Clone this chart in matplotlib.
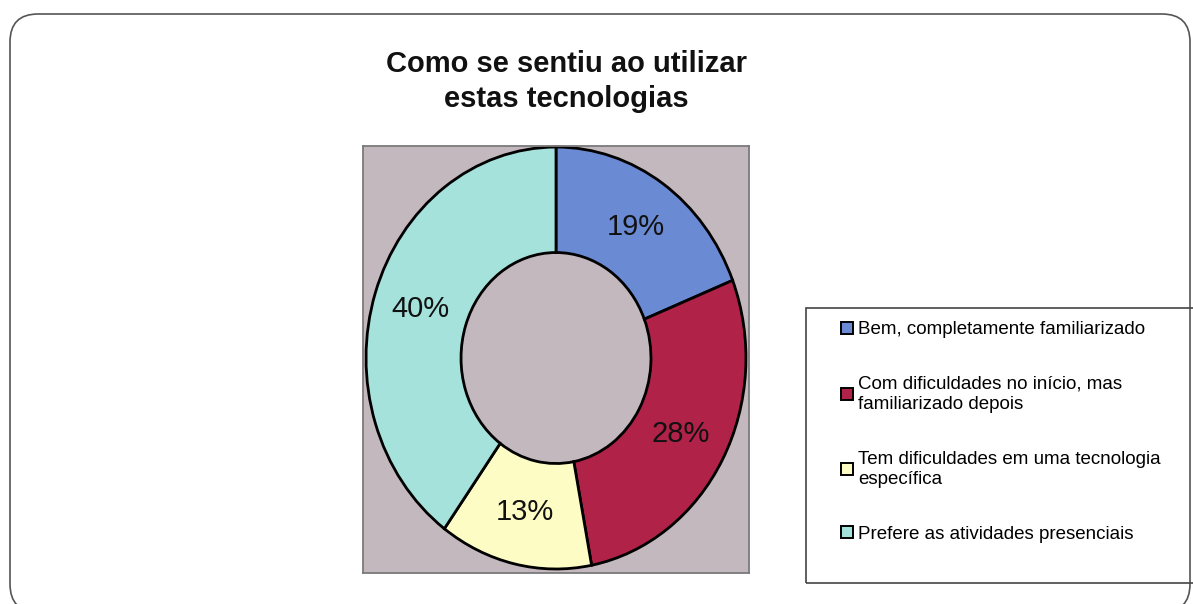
import matplotlib
matplotlib.use("Agg")
import matplotlib.pyplot as plt
import numpy as np
from matplotlib.patches import FancyBboxPatch, Rectangle, Patch
from matplotlib.transforms import IdentityTransform

categories = [
    "Bem, completamente familiarizado",
    "Com dificuldades no início, mas\nfamiliarizado depois",
    "Tem dificuldades em uma tecnologia\nespecífica",
    "Prefere as atividades presenciais",
]
values = [19, 28, 13, 40]
pct_labels = ["19%", "28%", "13%", "40%"]
colors = ["#6a8ad4", "#b02248", "#fdfcc4", "#a6e2dc"]
title = "Como se sentiu ao utilizar\nestas tecnologias"

plt.rcParams["font.family"] = ["Liberation Sans", "DejaVu Sans"]

W, H = 1193, 604
fig = plt.figure(figsize=(W / 100, H / 100), dpi=100)
fig.patch.set_facecolor("white")

# outer rounded border (display pixels)
border = FancyBboxPatch((10, -8), 1180, 598,
                        boxstyle="round,pad=0,rounding_size=28",
                        transform=IdentityTransform(), fill=False,
                        edgecolor="#555555", linewidth=1.2)
fig.patches.append(border)

# plot area
ax = fig.add_axes([363 / W, (H - 573) / H, 386 / W, 427 / H])
ax.set_facecolor("#c3b8bd")
wedges, texts = ax.pie(values, colors=colors, startangle=90, counterclock=False,
                       radius=1.0,
                       wedgeprops=dict(width=0.5, edgecolor="black", linewidth=2.0))
for w, lab in zip(wedges, pct_labels):
    ang = np.deg2rad((w.theta1 + w.theta2) / 2)
    ax.text(0.75 * np.cos(ang), 0.75 * np.sin(ang), lab, ha="center", va="center",
            fontsize=21, color="#111111")
ax.set_aspect("auto")
ax.set_xlim(-1.016, 1.016)
ax.set_ylim(-1.019, 1.005)
ax.set_xticks([])
ax.set_yticks([])
ax.set_frame_on(True)
for sp in ax.spines.values():
    sp.set_visible(True)
    sp.set_edgecolor("#7a7a7a")
    sp.set_linewidth(1.3)

# title
fig.text(566 / W, 1 - 50 / H, title, ha="center", va="top", fontsize=21,
         fontweight="bold", linespacing=1.3, color="#111111")

# legend frame
fig.patches.append(Rectangle((806, H - 583), 420, 275, transform=IdentityTransform(),
                             fill=False, edgecolor="#444444", linewidth=1.2))
handles = [Patch(facecolor=c, edgecolor="black", linewidth=1.4) for c in colors]
leg = fig.legend(handles, categories, loc="center left",
                 bbox_to_anchor=(832 / W, 1 - 432 / H), frameon=False,
                 fontsize=13.5, handlelength=0.6, handleheight=0.6,
                 handletextpad=0.3, labelspacing=1.98, borderpad=0)
for t in leg.get_texts():
    t.set_linespacing(1.3)

fig.savefig("out.png", dpi=100)
